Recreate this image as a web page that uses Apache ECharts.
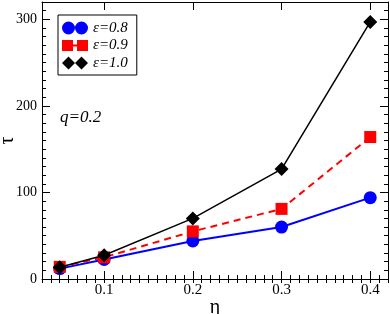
<!DOCTYPE html>
<html><head><meta charset="utf-8">
<script src="https://cdn.jsdelivr.net/npm/echarts@6/dist/echarts.min.js"></script>
<style>html,body{margin:0;padding:0;background:#fff}#c{width:390px;height:314px}</style>
</head><body><div id="c"></div>
<script>
const etaValues = [0.05, 0.1, 0.2, 0.3, 0.4];
const tauEps08 = [12, 22.5, 44, 60, 94];
const tauEps09 = [14, 25, 55, 81, 164];
const tauEps10 = [13.5, 27.5, 70, 127, 297];
const seriesNames = ['ε=0.8', 'ε=0.9', 'ε=1.0'];
const xTickLabels = [0.1, 0.2, 0.3, 0.4];
const yTickLabels = [0, 100, 200, 300];

const FONT = 'Liberation Serif';
const xMin = 0.03, xMax = 0.42;
const yMin = 0, yMax = 320;

function pairs(ys){ return etaValues.map((x,i)=>[x, ys[i]]); }

function xAxisMajor(pos, labels){
  return {type:'value', position:pos, min:xMin, max:xMax,
    axisLine:{show:true, onZero:false, lineStyle:{color:'#000', width:1}},
    axisTick:{show:true, inside:true, length:8, customValues:xTickLabels, lineStyle:{color:'#000', width:1}},
    axisLabel:{show:labels, customValues:xTickLabels, margin:4, color:'#000', fontFamily:FONT, fontSize:15,
      formatter:v=>String(Math.round(v*10)/10)},
    splitLine:{show:false}};
}
function xAxisMinor(pos){
  return {type:'value', position:pos, min:xMin, max:xMax, interval:0.01,
    axisLine:{show:false},
    axisTick:{show:true, inside:true, length:4, lineStyle:{color:'#000', width:1}},
    axisLabel:{show:false}, splitLine:{show:false}};
}
function yAxisMajor(pos, labels){
  return {type:'value', position:pos, min:yMin, max:yMax,
    axisLine:{show:true, onZero:false, lineStyle:{color:'#000', width:1}},
    axisTick:{show:true, inside:true, length:8, customValues:yTickLabels, lineStyle:{color:'#000', width:1}},
    axisLabel:{show:labels, customValues:yTickLabels, margin:5, color:'#000', fontFamily:FONT, fontSize:14},
    splitLine:{show:false}};
}
function yAxisMinor(pos){
  return {type:'value', position:pos, min:yMin, max:yMax, interval:10,
    axisLine:{show:false},
    axisTick:{show:true, inside:true, length:4, lineStyle:{color:'#000', width:1}},
    axisLabel:{show:false}, splitLine:{show:false}};
}

const legendIcons = [
  'path://M0,6.5a6.5,6.5 0 1,0 13,0a6.5,6.5 0 1,0 -13,0Z M13,6.5a6.5,6.5 0 1,0 13,0a6.5,6.5 0 1,0 -13,0Z',
  'path://M0,0h11v11h-11Z M15,0h11v11h-11Z M11,4.5h4v2h-4Z',
  'path://M0,6.5L6.5,0L13,6.5L6.5,13Z M13,6.5L19.5,0L26,6.5L19.5,13Z'
];

const chart = echarts.init(document.getElementById('c'), null, {renderer:'canvas'});
chart.setOption({
  animation:false,
  backgroundColor:'#fff',
  grid:{left:42, right:2, top:2, bottom:35, outerBoundsMode:'none', containLabel:false},
  xAxis:[
    Object.assign(xAxisMajor('bottom', true), {name:'η', nameLocation:'middle', nameGap:19, nameMoveOverlap:false,
      nameTextStyle:{fontFamily:FONT, fontSize:20, color:'#000'}}),
    xAxisMinor('bottom'),
    xAxisMajor('top', false),
    xAxisMinor('top')
  ],
  yAxis:[
    Object.assign(yAxisMajor('left', true), {name:'τ', nameLocation:'middle', nameGap:24, nameRotate:90, nameMoveOverlap:false,
      nameTextStyle:{fontFamily:FONT, fontSize:20, color:'#000'}}),
    yAxisMinor('left'),
    yAxisMajor('right', false),
    yAxisMinor('right')
  ],
  legend:{
    show:true, orient:'vertical', left:58, top:15,
    itemWidth:26, itemHeight:13, itemGap:1.5,
    padding:[5,9,4,4],
    borderColor:'#000', borderWidth:1, backgroundColor:'#fff',
    data:[
      {name:seriesNames[0], icon:legendIcons[0]},
      {name:seriesNames[1], icon:legendIcons[1]},
      {name:seriesNames[2], icon:legendIcons[2]}
    ],
    textStyle:{fontFamily:FONT, fontSize:15, fontStyle:'italic', color:'#000', lineHeight:16}
  },
  graphic:[{type:'text', left:60, top:109, style:{text:'q=0.2', fontFamily:FONT, fontSize:17, fontStyle:'italic', fill:'#000'}}],
  series:[
    {name:seriesNames[0], type:'line', data:pairs(tauEps08), symbol:'circle', symbolSize:13,
      itemStyle:{color:'#0000ff'}, lineStyle:{color:'#0000ff', width:2}, z:2},
    {name:seriesNames[1], type:'line', data:pairs(tauEps09), symbol:'rect', symbolSize:12,
      itemStyle:{color:'#ff0000'}, lineStyle:{color:'#ff0000', width:2, type:[7,5]}, z:3},
    {name:seriesNames[2], type:'line', data:pairs(tauEps10), symbol:'diamond', symbolSize:[14,14],
      itemStyle:{color:'#000'}, lineStyle:{color:'#000', width:1.5}, z:4}
  ]
});
</script></body></html>
